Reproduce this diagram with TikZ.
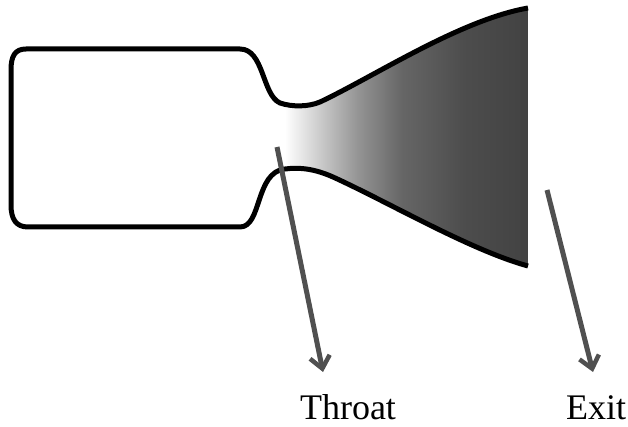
\documentclass[tikz,border=0pt]{standalone}
\usepackage{fontspec}
\setmainfont{Liberation Serif}
\usetikzlibrary{arrows.meta}
\definecolor{arrowgrey}{RGB}{80,80,80}
\pgfdeclarehorizontalshading{bellfade}{100bp}{color(0bp)=(white);color(25bp)=(white);
  color(32bp)=(black!20);color(40bp)=(black!42);color(49bp)=(black!60);
  color(62bp)=(black!70);color(75bp)=(black!74);color(100bp)=(black!74)}
\tikzset{
  pointer/.style={draw=arrowgrey,line width=5pt,-{Straight Barb[length=12pt,width=20pt,line width=4.5pt]}},
  wall/.style={draw=black,line width=5pt,line join=round},
  caption/.style={font=\fontsize{36}{36}\selectfont,anchor=base,inner sep=0pt}
}
\begin{document}
\begin{tikzpicture}[x=1pt,y=-1pt]
  \useasboundingbox (0,0) rectangle (628,427);
  % bell of the nozzle, white at the throat and dark at the exit
  \begin{scope}
    \clip (280,103) .. controls (292,107) and (308,107) .. (320,102)
      .. controls (375,76) and (460,20) .. (528,8)
      -- (528,266) .. controls (470,250) and (390,203) .. (333,177)
      .. controls (315,169) and (300,167) .. (280,169) -- cycle;
    \shade[shading=bellfade] (285,0) rectangle (528,280);
  \end{scope}
  % chamber and walls
  \draw[wall] (528,8) .. controls (460,20) and (375,76) .. (320,102)
    .. controls (308,107) and (292,107) .. (280,103)
    .. controls (262,95) and (264,49) .. (240,49)
    -- (26,49) .. controls (15,49) and (11,56) .. (11,70)
    -- (11,205) .. controls (11,219) and (16,227) .. (28,227)
    -- (240,227) .. controls (262,227) and (255,172) .. (285,169)
    .. controls (300,167) and (315,169) .. (333,177)
    .. controls (390,203) and (470,250) .. (528,266);
  % arrows and their labels
  \node[caption] (throat) at (348,419) {Throat};
  \node[caption] (exit) at (596,419) {Exit};
  \coordinate (throattail) at (277,147);
  \coordinate (throathead) at (323,372);
  \coordinate (exittail) at (547,190);
  \coordinate (exithead) at (593,372);
  \draw[pointer] (throattail) -- (throathead);
  \draw[pointer] (exittail) -- (exithead);
\end{tikzpicture}
\end{document}
